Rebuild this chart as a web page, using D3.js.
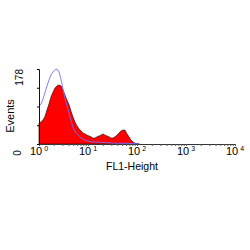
<!DOCTYPE html>
<html>
<head>
<meta charset="utf-8">
<script src="https://cdn.jsdelivr.net/npm/d3@7"></script>
<style>
  body { margin: 0; background: #fff; }
  text { font-family: "Liberation Sans", Arial, sans-serif; fill: #000; }
</style>
</head>
<body>
<script>
// chart size and plot box
var w = 250;
var h = 250;
var plotLeft = 39, plotRight = 235, plotTop = 69, plotBottom = 144;

// FL1 channel values (log scale) and event counts
var redFL1 = [1.00, 1.10, 1.21, 1.33, 1.46, 1.60, 1.76, 1.93, 2.12, 2.33,
    2.56, 2.81, 3.09, 3.39, 3.73, 4.10, 4.50, 4.94, 5.43, 5.96,
    6.55, 7.20, 7.91, 8.69, 9.54, 10.5, 11.5, 12.6, 13.9, 15.3,
    16.8, 18.4, 20.2, 22.2, 24.4, 26.8, 29.5, 32.4, 35.6, 39.1,
    42.9, 47.2, 51.8, 56.9, 62.5, 68.7, 75.4, 82.9, 91.0, 100, 110];
var redCounts = [50, 52, 57, 66, 81, 95, 112, 123, 133, 138,
    140, 138, 128, 116, 104, 93, 78, 64, 52, 43,
    36, 31, 26, 24, 21, 19, 17, 14, 14, 17,
    19, 21, 24, 21, 19, 17, 14, 14, 17, 21,
    26, 31, 33, 33, 24, 17, 9, 5, 2, 1, 0];

var blueFL1 = [1.00, 1.10, 1.21, 1.33, 1.46, 1.60, 1.76, 1.93, 2.12, 2.33,
    2.56, 2.81, 3.09, 3.39, 3.73, 4.10, 4.50, 4.94, 5.43, 5.96,
    6.55, 7.20, 7.91, 8.69, 10.0, 12.1, 17.6, 35.5, 91, 115];
var blueCounts = [90, 95, 107, 123, 138, 152, 164, 171, 176, 178,
    171, 154, 130, 109, 90, 74, 55, 40, 31, 24,
    19, 14, 12, 9, 7, 5, 4, 2, 1, 0];

var decades = [0, 1, 2, 3, 4];
var yTicks = [0, 44.5, 89, 133.5, 178];
var minorTicks = [];
decades.slice(0, 4).forEach(function(p) {
    [1, 2, 3, 4, 5, 6, 7, 8, 9].forEach(function(m) { minorTicks.push(m * Math.pow(10, p)); });
});
minorTicks.push(10000);

var xScale = d3.scaleLog()
    .domain([1, 10000])
    .range([plotLeft, plotRight]);

var yScale = d3.scaleLinear()
    .domain([0, 178])
    .range([plotBottom, plotTop]);

var svg = d3.select("body")
    .append("svg")
    .attr("width", w)
    .attr("height", h);

// red filled histogram with dark outline
var area = d3.area()
    .x(function(d) { return xScale(d[0]); })
    .y0(yScale(0))
    .y1(function(d) { return yScale(d[1]); });

var redData = redFL1.map(function(v, i) { return [v, redCounts[i]]; });
svg.append("path")
    .datum(redData)
    .attr("d", area)
    .attr("fill", "#ff0000")
    .attr("stroke", "#331111")
    .attr("stroke-width", 0.7);

// blue overlay line
var line = d3.line()
    .x(function(d) { return xScale(d[0]); })
    .y(function(d) { return yScale(d[1]); });

var blueData = blueFL1.map(function(v, i) { return [v, blueCounts[i]]; });
svg.append("path")
    .datum(blueData)
    .attr("d", line)
    .attr("fill", "none")
    .attr("stroke", "#7272ff")
    .attr("stroke-width", 0.9);

// x axis: log ticks, labels drawn separately
var xAxis = d3.axisBottom(xScale)
    .tickValues(minorTicks)
    .tickSize(2)
    .tickFormat("");

svg.append("g")
    .attr("transform", "translate(0," + plotBottom + ")")
    .call(xAxis)
    .call(function(g) {
        g.select(".domain").attr("stroke", "#333");
        g.selectAll(".tick line").attr("stroke", "#555");
    });

svg.selectAll(".xlab")
    .data(decades)
    .enter()
    .append("text")
    .attr("class", "xlab")
    .attr("x", function(d) { return xScale(Math.pow(10, d)); })
    .attr("y", 155)
    .attr("text-anchor", "middle")
    .attr("font-size", 11)
    .text("10")
    .append("tspan")
    .attr("dx", 2)
    .attr("dy", -4)
    .attr("font-size", 7)
    .text(function(d) { return d; });

// y axis
var yAxis = d3.axisLeft(yScale)
    .tickValues(yTicks)
    .tickSize(2)
    .tickFormat("");

svg.append("g")
    .attr("transform", "translate(" + plotLeft + ",0)")
    .call(yAxis)
    .call(function(g) {
        g.select(".domain").attr("stroke", "#112");
    });

// rotated y labels
svg.append("text")
    .attr("transform", "translate(23," + plotTop + ") rotate(-90)")
    .attr("text-anchor", "end")
    .attr("font-size", 10)
    .text("178");

svg.append("text")
    .attr("transform", "translate(21,153) rotate(-90)")
    .attr("text-anchor", "middle")
    .attr("font-size", 10)
    .text("0");

svg.append("text")
    .attr("transform", "translate(14,116) rotate(-90)")
    .attr("text-anchor", "middle")
    .attr("font-size", 11)
    .text("Events");

// x axis title
svg.append("text")
    .attr("x", 132)
    .attr("y", 170)
    .attr("text-anchor", "middle")
    .attr("font-size", 10.5)
    .text("FL1-Height");
</script>
</body>
</html>
